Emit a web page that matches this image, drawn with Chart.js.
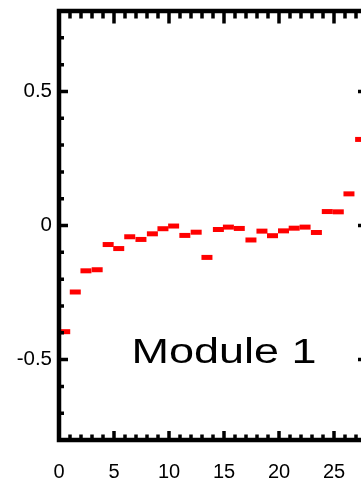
<!DOCTYPE html>
<html>
<head>
<meta charset="utf-8">
<script src="https://cdn.jsdelivr.net/npm/chart.js@4/dist/chart.umd.min.js"></script>
<style>
  html, body { margin: 0; padding: 0; background: #fff; overflow: hidden; }
  #wrap { width: 361px; height: 481px; overflow: hidden; position: relative; }
  #box { width: 400px; height: 481px; position: absolute; left: 0; top: 0; }
</style>
</head>
<body>
<div id="wrap"><div id="box"><canvas id="c"></canvas></div></div>
<script>
// ---- data ----
const xValues = [0.52, 1.48, 2.45, 3.47, 4.47, 5.43, 6.43, 7.45, 8.49, 9.45,
                 10.42, 11.44, 12.47, 13.45, 14.49, 15.40, 16.39, 17.45, 18.45, 19.41,
                 20.41, 21.38, 22.37, 23.40, 24.39, 25.39, 26.36, 27.42];
const yValues = [-0.396, -0.248, -0.169, -0.165, -0.071, -0.086, -0.042, -0.052, -0.031, -0.012,
                 -0.002, -0.037, -0.025, -0.119, -0.015, -0.006, -0.011, -0.054, -0.021, -0.038,
                 -0.020, -0.010, -0.006, -0.026, 0.052, 0.051, 0.118, 0.321];
const xTicks = [0, 5, 10, 15, 20, 25];
const yTicks = [-0.5, 0, 0.5];
const xRange = [0, 28];
const yRange = [-0.8, 0.8];
const label = "Module 1";

const points = xValues.map((x, i) => ({ x: x, y: yValues[i] }));
const FONT = '"Liberation Sans", Arial, sans-serif';

function halfUnit(ctx) {
  const s = ctx.chart.scales.x;
  if (!s) return 5.5;
  return Math.abs(s.getPixelForValue(0.5) - s.getPixelForValue(0));
}

const framePlugin = {
  id: 'frame',
  afterDatasetsDraw(chart) {
    const ctx = chart.ctx;
    const { left, right, top, bottom } = chart.chartArea;
    const xs = chart.scales.x, ys = chart.scales.y;
    ctx.save();
    ctx.strokeStyle = '#000';
    ctx.lineCap = 'butt';
    ctx.lineWidth = 3.5;
    ctx.beginPath();
    for (let v = xRange[0]; v <= xRange[1]; v++) {
      const px = xs.getPixelForValue(v);
      const major = v % 5 === 0;
      ctx.moveTo(px, bottom); ctx.lineTo(px, bottom - (major ? 9 : 5.5));
      ctx.moveTo(px, top); ctx.lineTo(px, top + (major ? 12.5 : 7.5));
    }
    for (let k = Math.round(yRange[0] * 10); k <= Math.round(yRange[1] * 10); k++) {
      const py = ys.getPixelForValue(k / 10);
      const major = k % 5 === 0;
      ctx.moveTo(left, py); ctx.lineTo(left + (major ? 9 : 5), py);
      ctx.moveTo(right, py); ctx.lineTo(right - (major ? 9 : 5), py);
    }
    ctx.stroke();
    ctx.lineWidth = 4.5;
    ctx.strokeRect(left, top, right - left, bottom - top);
    ctx.restore();
  },
  afterDraw(chart) {
    const ctx = chart.ctx;
    const xs = chart.scales.x, ys = chart.scales.y;
    ctx.save();
    ctx.font = '35px ' + FONT;
    ctx.fillStyle = '#000';
    ctx.textBaseline = 'alphabetic';
    ctx.textAlign = 'center';
    const w = ctx.measureText(label).width;
    const sx = 185 / w;
    ctx.translate(xs.getPixelForValue(15), ys.getPixelForValue(-0.513));
    ctx.scale(sx, 1);
    ctx.fillText(label, 0, 0);
    ctx.restore();
  }
};

new Chart(document.getElementById('c'), {
  type: 'scatter',
  data: {
    datasets: [
      {
        data: points,
        pointStyle: 'line',
        pointRadius: halfUnit,
        pointHoverRadius: halfUnit,
        pointBorderWidth: 5,
        pointHoverBorderWidth: 5,
        borderColor: '#ff0000',
        backgroundColor: '#ff0000',
        showLine: false
      },
      {
        data: points,
        pointStyle: 'line',
        pointRadius: 1.6,
        pointHoverRadius: 1.6,
        pointBorderWidth: 2,
        pointHoverBorderWidth: 2,
        borderColor: '#000',
        backgroundColor: '#000',
        showLine: false
      }
    ]
  },
  options: {
    responsive: true,
    maintainAspectRatio: false,
    animation: false,
    events: [],
    layout: { padding: { top: 11, right: 33, left: 0, bottom: 0 } },
    plugins: { legend: { display: false }, tooltip: { enabled: false } },
    scales: {
      x: {
        type: 'linear',
        min: xRange[0], max: xRange[1],
        grid: { display: false, drawTicks: false },
        border: { display: false },
        afterBuildTicks(s) { s.ticks = xTicks.map(v => ({ value: v })); },
        afterFit(s) { s.height = 41; s.paddingLeft = 0; s.paddingRight = 0; },
        ticks: { color: '#000', padding: 20, maxRotation: 0, autoSkip: false,
                 font: { family: FONT, size: 20 } }
      },
      y: {
        type: 'linear',
        min: yRange[0], max: yRange[1],
        grid: { display: false, drawTicks: false },
        border: { display: false },
        afterBuildTicks(s) { s.ticks = yTicks.map(v => ({ value: v })); },
        afterFit(s) { s.width = 59; s.paddingTop = 0; s.paddingBottom = 0; },
        ticks: { color: '#000', padding: 7, autoSkip: false,
                 font: { family: FONT, size: 20.5 },
                 callback: v => String(v) }
      }
    }
  },
  plugins: [framePlugin]
});
</script>
</body>
</html>
